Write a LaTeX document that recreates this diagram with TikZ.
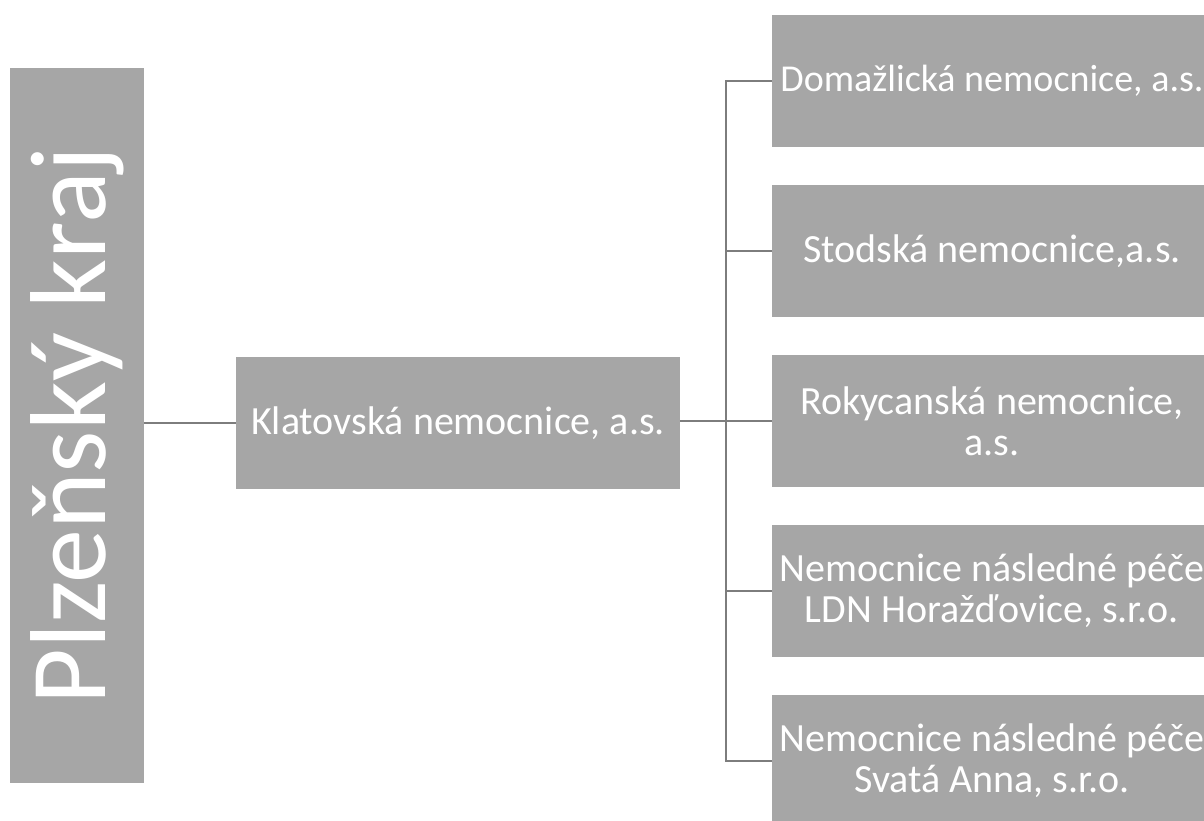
\documentclass[tikz,border=0pt]{standalone}
\usepackage{fontspec}
\setmainfont{Carlito}
\usetikzlibrary{backgrounds,calc}
\definecolor{boxgray}{RGB}{166,166,166}
\definecolor{linegray}{RGB}{125,125,125}
\tikzset{
  box/.style={fill=boxgray, draw=none, text=white, inner sep=0pt, align=center,
    font=\fontsize{40}{41}\selectfont},
  rbox/.style={box, minimum width=440pt, minimum height=132pt},
  conn/.style={draw=linegray, line width=1.5pt}
}
\begin{document}
\begin{tikzpicture}[x=1pt,y=-1pt]
\useasboundingbox (0,0) rectangle (1204,821);
\clip (0,0) rectangle (1204,821);
\node[box, minimum width=134pt, minimum height=715pt] (kraj) at (77,425.5)
  {\rotatebox{90}{\fontsize{108}{110}\selectfont Plzeňský kraj}};
\node[box, minimum width=444pt, minimum height=132pt] (klat) at (458,423) {Klatovská nemocnice, a.s.};
\node[rbox, font=\fontsize{38}{40}\selectfont] (r1) at (992,81) {Domažlická nemocnice, a.s.};
\node[rbox] (r2) at (992,251) {Stodská nemocnice,a.s.};
\node[rbox] (r3) at (992,421) {Rokycanská nemocnice,\\a.s.};
\node[rbox] (r4) at (992,591) {Nemocnice následné péče\\LDN Horažďovice, s.r.o.};
\node[rbox] (r5) at (992,761) {Nemocnice následné péče\\Svatá Anna, s.r.o.};
\begin{scope}[on background layer]
\foreach \n in {r1,r2,r3,r4,r5}
  \fill[boxgray] (\n.north west) rectangle ($(\n.south east)+(60,0)$);
\end{scope}
\coordinate (bus) at (726,421);
\draw[conn] (klat.west -| kraj.east) -- (klat.west);
\draw[conn] (klat.east |- r3.west) -- (r3.west);
\draw[conn] (r1.west) -- (r1.west -| bus) -- (r5.west -| bus) -- (r5.west);
\draw[conn] (r2.west) -- (r2.west -| bus);
\draw[conn] (r4.west) -- (r4.west -| bus);
\end{tikzpicture}
\end{document}
